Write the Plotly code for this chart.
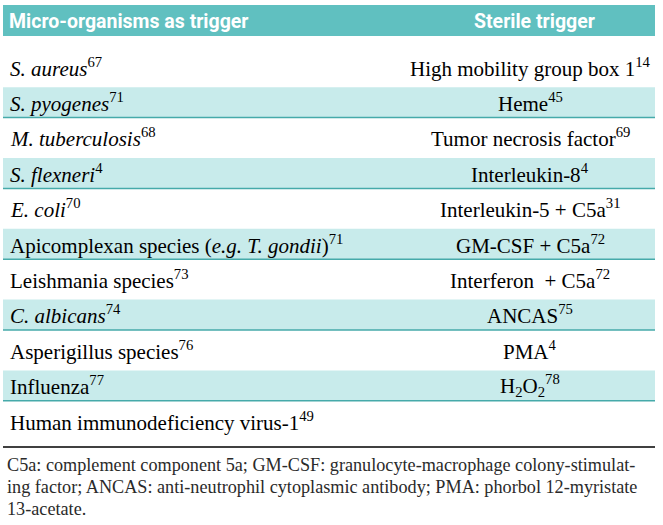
import plotly.graph_objects as go

# ---- data ----
header_left = "Micro-organisms as trigger"
header_right = "Sterile trigger"

micro = [
    "<i>S. aureus</i><sup>67</sup>",
    "<i>S. pyogenes</i><sup>71</sup>",
    "<i>M. tuberculosis</i><sup>68</sup>",
    "<i>S. flexneri</i><sup>4</sup>",
    "<i>E. coli</i><sup>70</sup>",
    "Apicomplexan species (<i>e.g. T. gondii</i>)<sup>71</sup>",
    "Leishmania species<sup>73</sup>",
    "<i>C. albicans</i><sup>74</sup>",
    "Asperigillus species<sup>76</sup>",
    "Influenza<sup>77</sup>",
    "Human immunodeficiency virus-1<sup>49</sup>",
]
sterile = [
    "High mobility group box 1<sup>14</sup>",
    "Heme<sup>45</sup>",
    "Tumor necrosis factor<sup>69</sup>",
    "Interleukin-8<sup>4</sup>",
    "Interleukin-5 + C5a<sup>31</sup>",
    "GM-CSF + C5a<sup>72</sup>",
    "Interferon  + C5a<sup>72</sup>",
    "ANCAS<sup>75</sup>",
    "PMA<sup>4</sup>",
    "H<sub>2</sub>O<sub>2</sub><sup>78</sup>",
    "",
]
footnote_lines = [
    "C5a: complement component 5a; GM-CSF: granulocyte-macrophage colony-stimulat-",
    "ing factor; ANCAS: anti-neutrophil cytoplasmic antibody; PMA: phorbol 12-myristate",
    "13-acetate.",
]

# ---- styling ----
HEADER_BG = "#60c0c0"
BAND_BG = "#c8ebeb"
BAND_LINE = "#46aaaa"
BODY_FONT = "Liberation Serif"
HEAD_FONT = "Roboto, sans-serif"

W, H = 663, 525
X_LEFT, X_RIGHT = 3, 655
COL1_X, COL2_X = 8, 530

# rows: row i centred at pixel Y0 + i*DY
Y0, DY = 67.0, 35.4
def u(px):
    return (px - Y0) / DY

fig = go.Figure()
shapes = []
ann = []

shapes.append(dict(type="rect", xref="x", yref="y", x0=X_LEFT, x1=X_RIGHT,
                   y0=u(5), y1=u(36), fillcolor=HEADER_BG, line=dict(width=0), layer="below"))
ann.append(dict(x=COL1_X - 1, y=u(21), xref="x", yref="y", text="<b>" + header_left + "</b>",
                showarrow=False, xanchor="left", yanchor="middle",
                font=dict(family=HEAD_FONT, size=19.5, color="white")))
ann.append(dict(x=COL2_X + 4, y=u(21), xref="x", yref="y", text="<b>" + header_right + "</b>",
                showarrow=False, xanchor="center", yanchor="middle",
                font=dict(family=HEAD_FONT, size=19.5, color="white")))

for i, (m, s) in enumerate(zip(micro, sterile)):
    if i % 2 == 1:
        shapes.append(dict(type="rect", xref="x", yref="y", x0=X_LEFT, x1=X_RIGHT,
                           y0=i - 0.43, y1=i + 0.43, fillcolor=BAND_BG,
                           line=dict(width=0), layer="below"))
        shapes.append(dict(type="line", xref="x", yref="y", x0=X_LEFT, x1=X_RIGHT,
                           y0=i + 0.43, y1=i + 0.43, line=dict(color=BAND_LINE, width=1.5)))
    ann.append(dict(x=COL1_X, y=i, xref="x", yref="y", text=m, showarrow=False,
                    xanchor="left", yanchor="middle",
                    font=dict(family=BODY_FONT, size=21, color="black")))
    if s:
        ann.append(dict(x=COL2_X, y=i, xref="x", yref="y", text=s, showarrow=False,
                        xanchor="center", yanchor="middle",
                        font=dict(family=BODY_FONT, size=21, color="black")))

shapes.append(dict(type="line", xref="x", yref="y", x0=X_LEFT, x1=X_RIGHT,
                   y0=u(447), y1=u(447), line=dict(color="black", width=1.5)))

for k, (line, py) in enumerate(zip(footnote_lines, [465, 487, 509])):
    ann.append(dict(x=5, y=u(py), xref="x", yref="y", text=line, showarrow=False,
                    xanchor="left", yanchor="middle",
                    font=dict(family=BODY_FONT, size=18.2, color="#2a2a2a")))

fig.update_layout(
    width=W, height=H, margin=dict(l=0, r=0, t=0, b=0),
    paper_bgcolor="white", plot_bgcolor="white",
    shapes=shapes, annotations=ann, showlegend=False,
    xaxis=dict(range=[0, W], visible=False, fixedrange=True),
    yaxis=dict(range=[u(H), u(0)], visible=False, fixedrange=True),
)

# remove the browser's default 8px body margin so the figure fills the window
fig.write_html("out.html", config={"displayModeBar": False},
               post_script="document.body.style.margin='0';document.body.style.overflow='hidden';")
